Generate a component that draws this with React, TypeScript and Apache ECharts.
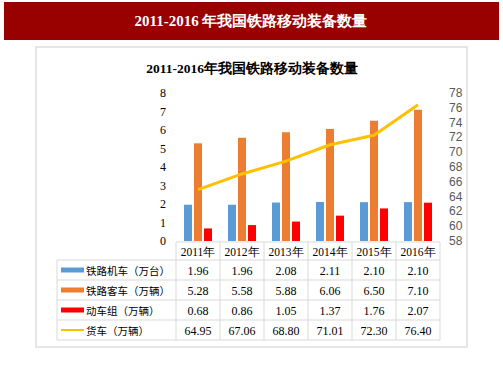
import React, { useEffect, useRef } from "react";
import * as echarts from "echarts";

const categories = ["2011年", "2012年", "2013年", "2014年", "2015年", "2016年"];
const locomotives = [1.96, 1.96, 2.08, 2.11, 2.1, 2.1];
const passengerCars = [5.28, 5.58, 5.88, 6.06, 6.5, 7.1];
const emus = [0.68, 0.86, 1.05, 1.37, 1.76, 2.07];
const freightCars = [64.95, 67.06, 68.8, 71.01, 72.3, 76.4];
const seriesNames = ["铁路机车（万台）", "铁路客车（万辆）", "动车组（万辆）", "货车（万辆）"];
const seriesColors = ["#5B9BD5", "#ED7D31", "#FF0000", "#FFC000"];
const title = "2011-2016年我国铁路移动装备数量";
const headerTitle = "2011-2016 年我国铁路移动装备数量";

export default function App() {
  const ref = useRef<HTMLDivElement>(null);
  useEffect(() => {
    document.body.style.margin = "0";
    const chart = echarts.init(ref.current!, null, { renderer: "svg" });

    const gridLeft = 176;
    const gridRight = 440;
    const gridTop = 93;
    const gridBottom = 241;
    const colW = (gridRight - gridLeft) / categories.length;
    const tableLeft = 57;
    const headTop = 242;
    const headBottom = 260;
    const rowH = 20;
    const lineColor = "#D9D9D9";
    const serif = "'Liberation Serif', 'Times New Roman', serif";
    const sans = "'Noto Sans CJK SC', 'Microsoft YaHei', sans-serif";

    const rows = [locomotives, passengerCars, emus, freightCars];
    const fmt = (v: number) => v.toFixed(2);

    const g: any[] = [];
    g.push({ type: "rect", shape: { x: 4, y: 2, width: 495, height: 38 }, style: { fill: "#990000" } });
    g.push({
      type: "text", x: 251, y: 21,
      style: { text: headerTitle, fill: "#FFFFFF", font: `bold 15px ${serif}`, align: "center", verticalAlign: "middle" },
    });
    g.push({ type: "rect", shape: { x: 36, y: 47, width: 431, height: 300 }, style: { fill: "none", stroke: "#DDDDDD", lineWidth: 1.5 } });
    g.push({
      type: "text", x: 252, y: 68,
      style: { text: title, fill: "#000000", font: `bold 13.5px ${serif}`, align: "center", verticalAlign: "middle" },
    });
    g.push({ type: "line", shape: { x1: gridLeft, y1: headTop, x2: gridRight, y2: headTop }, style: { stroke: lineColor, lineWidth: 1 } });
    for (let r = 0; r <= rows.length; r++) {
      const y = headBottom + r * rowH;
      g.push({ type: "line", shape: { x1: tableLeft, y1: y, x2: gridRight, y2: y }, style: { stroke: lineColor, lineWidth: 1 } });
    }
    g.push({ type: "line", shape: { x1: tableLeft, y1: headBottom, x2: tableLeft, y2: headBottom + rows.length * rowH }, style: { stroke: lineColor, lineWidth: 1 } });
    for (let c = 0; c <= categories.length; c++) {
      const x = gridLeft + c * colW;
      g.push({ type: "line", shape: { x1: x, y1: headTop, x2: x, y2: headBottom + rows.length * rowH }, style: { stroke: lineColor, lineWidth: 1 } });
    }
    categories.forEach((cat, c) => {
      g.push({
        type: "text", x: gridLeft + (c + 0.5) * colW, y: (headTop + headBottom) / 2 + 1,
        style: { text: cat, fill: "#000", font: `11.5px ${serif}`, align: "center", verticalAlign: "middle" },
      });
    });
    rows.forEach((vals, r) => {
      const cy = headBottom + (r + 0.5) * rowH;
      if (r < 3) {
        g.push({ type: "rect", shape: { x: 61, y: cy - 2.5, width: 23, height: 5 }, style: { fill: seriesColors[r] } });
      } else {
        g.push({ type: "line", shape: { x1: 61, y1: cy, x2: 84, y2: cy }, style: { stroke: seriesColors[r], lineWidth: 2 } });
      }
      g.push({
        type: "text", x: 86, y: cy,
        style: { text: seriesNames[r], fill: "#000", font: `10.5px ${sans}`, align: "left", verticalAlign: "middle" },
      });
      vals.forEach((v, c) => {
        g.push({
          type: "text", x: gridLeft + (c + 0.5) * colW, y: cy + 1,
          style: { text: fmt(v), fill: "#000", font: `12px ${serif}`, align: "center", verticalAlign: "middle" },
        });
      });
    });

    chart.setOption({
      animation: false,
      backgroundColor: "#FFFFFF",
      grid: { left: gridLeft, right: 503 - gridRight, top: gridTop, bottom: 378 - gridBottom, containLabel: false },
      xAxis: {
        type: "category",
        data: categories,
        axisLine: { show: false },
        axisTick: { show: false },
        axisLabel: { show: false },
        splitLine: { show: false },
      },
      yAxis: [
        {
          type: "value", min: 0, max: 8, interval: 1,
          axisLine: { show: false }, axisTick: { show: false }, splitLine: { show: false },
          axisLabel: { color: "#000", fontSize: 12, fontFamily: serif, margin: 10 },
        },
        {
          type: "value", min: 58, max: 78, interval: 2, position: "right",
          axisLine: { show: false }, axisTick: { show: false }, splitLine: { show: false },
          axisLabel: { color: "#595959", fontSize: 12, fontFamily: "'Liberation Sans', Arial, sans-serif", margin: 9 },
        },
      ],
      series: [
        { name: seriesNames[0], type: "bar", data: locomotives, barWidth: 8, barGap: "25%", itemStyle: { color: seriesColors[0] } },
        { name: seriesNames[1], type: "bar", data: passengerCars, barWidth: 8, barGap: "25%", itemStyle: { color: seriesColors[1] } },
        { name: seriesNames[2], type: "bar", data: emus, barWidth: 8, barGap: "25%", itemStyle: { color: seriesColors[2] } },
        {
          name: seriesNames[3], type: "line", yAxisIndex: 1, data: freightCars, showSymbol: false, symbol: "none",
          lineStyle: { color: seriesColors[3], width: 3 }, itemStyle: { color: seriesColors[3] }, z: 5,
        },
      ],
      graphic: g,
    });
    return () => chart.dispose();
  }, []);
  return <div ref={ref} style={{ position: "fixed", left: 0, top: 0, width: 503, height: 378 }} />;
}
